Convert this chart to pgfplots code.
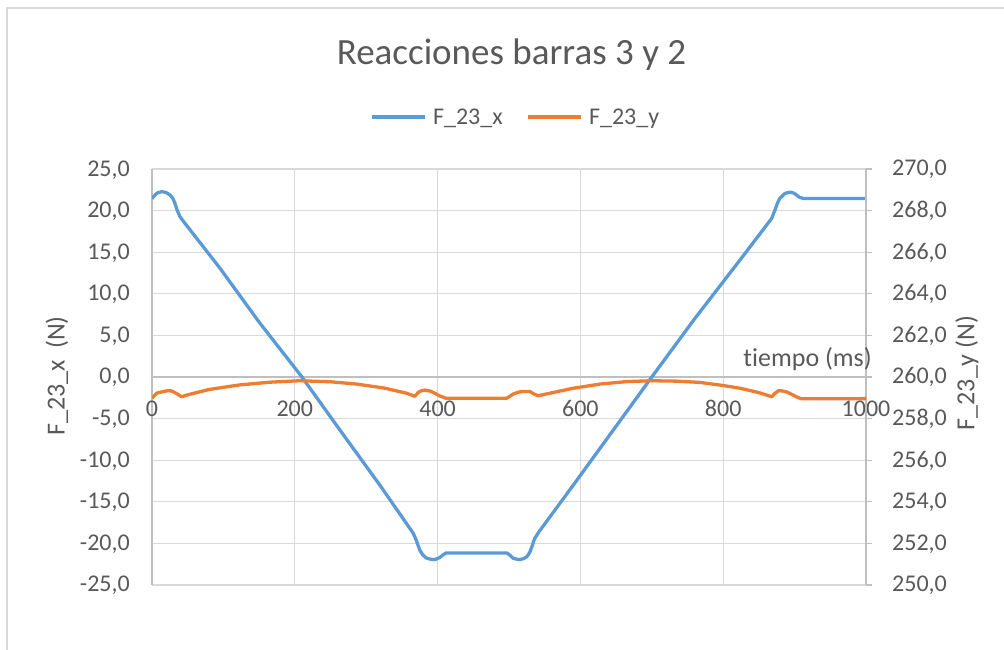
\documentclass[border=0pt]{standalone}
\usepackage{fontspec}
\setmainfont{Carlito}[Ligatures=CommonOff]
\usepackage{pgfplots}
\pgfplotsset{compat=1.18}
\definecolor{cblue}{HTML}{5B9BD5}
\definecolor{corange}{HTML}{ED7D31}
\definecolor{ctext}{HTML}{595959}
\definecolor{cgrid}{HTML}{D9D9D9}
\definecolor{caxis}{HTML}{BFBFBF}

\pgfplotstableread{
t v
0 21.45
4 21.85
8 22.15
13.6 22.27
19 22.2
25 21.9
29 21.5
32 20.9
35 20.1
39 19.3
45 18.6
95 13.1
150 6.6
210 0.0
263 -6.35
320 -13.1
366 -18.8
370 -19.6
375 -20.8
379 -21.35
384 -21.75
390 -21.9
396 -21.95
403 -21.7
408 -21.35
412 -21.15
497 -21.15
501 -21.4
506 -21.8
514 -21.95
520 -21.85
525 -21.6
529 -21.1
532 -20.4
536 -19.4
542 -18.6
590 -13.0
627.5 -8.57
700 0.0
760 7.0
823.5 14.06
868 19.07
872.5 20.07
876 20.9
879.5 21.5
886.5 22.07
893.6 22.22
899 22.1
903 21.85
907 21.6
912 21.46
1000 21.46
}\fx

\pgfplotstableread{
t v
0 258.98
6.5 259.22
15.8 259.30
22 259.34
27.5 259.33
34.5 259.20
41.5 259.05
48.5 259.13
80 259.40
123 259.62
165 259.75
207 259.82
250 259.77
286.6 259.66
325 259.47
356.6 259.22
368 259.07
373 259.26
378 259.35
382.4 259.37
390 259.32
396 259.22
403 259.09
411.8 258.98
496.8 258.98
501 259.07
506 259.18
512 259.26
517.7 259.30
529.4 259.30
535 259.18
541 259.10
560 259.24
590 259.46
627.5 259.66
665 259.78
700 259.82
735 259.80
767.5 259.74
800 259.59
823.5 259.46
850 259.25
868 259.05
872 259.20
877.4 259.34
883 259.33
889 259.28
898 259.13
904 259.02
910 258.95
1000 258.96
}\fy

\begin{document}
\begin{tikzpicture}
\begin{axis}[
  at={(0pt,0pt)}, anchor=south west,
  scale only axis, width=714pt, height=416pt,
  xmin=0, xmax=1000, ymin=-25, ymax=25,
  axis x line=middle, axis y line=left,
  axis line style={-, draw=caxis, line width=1.3pt},
  every inner x axis line/.append style={-},
  every outer y axis line/.append style={-},
  hide obscured x ticks=false, hide obscured y ticks=false,
  xtick={0,200,400,600,800,1000},
  xticklabels={0,200,400,600,800,1000},
  ytick={-25,-20,-15,-10,-5,0,5,10,15,20,25},
  yticklabels={{-25,0},{-20,0},{-15,0},{-10,0},{-5,0},{0,0},{5,0},{10,0},{15,0},{20,0},{25,0}},
  major tick length=0pt,
  grid=major, major grid style={draw=cgrid, line width=1.2pt},
  xticklabel style={anchor=base, inner sep=0pt, yshift=-40pt, font=\fontsize{24}{28}\selectfont, text=ctext},
  yticklabel style={anchor=base east, inner sep=0pt, xshift=-22pt, yshift=-7pt, font=\fontsize{24}{28}\selectfont, text=ctext},
  legend columns=2,
  legend style={at={(0.5084,1.125)}, anchor=center, draw=none, fill=none,
    font=\fontsize{24}{28}\selectfont, text=ctext,
    nodes={inner sep=0pt, anchor=west},
    /tikz/every odd column/.append style={column sep=6pt},
    /tikz/every even column/.append style={column sep=24pt}},
  legend image code/.code={\draw[#1] (0pt,0pt) -- (53pt,0pt);},
]
\addplot[cblue, line width=3.3pt, line join=round] table[x=t, y=v] {\fx};
\addlegendentry{F\_23\_x}
\addlegendimage{corange, line width=3.3pt}
\addlegendentry{F\_23\_y}
\end{axis}
\begin{axis}[
  at={(0pt,0pt)}, anchor=south west,
  scale only axis, width=714pt, height=416pt,
  xmin=0, xmax=1000, ymin=250, ymax=270,
  axis x line=none, axis y line*=right,
  axis line style={-, draw=caxis, line width=1.3pt},
  every outer y axis line/.append style={-},
  ytick={250,252,254,256,258,260,262,264,266,268,270},
  yticklabels={{250,0},{252,0},{254,0},{256,0},{258,0},{260,0},{262,0},{264,0},{266,0},{268,0},{270,0}},
  tick align=outside, major tick length=6pt,
  ytick style={draw=caxis, line width=1.3pt},
  yticklabel style={anchor=base west, inner sep=0pt, xshift=20pt, yshift=-7pt, font=\fontsize{24}{28}\selectfont, text=ctext},
]
\addplot[corange, line width=3.3pt, line join=round] table[x=t, y=v] {\fy};
\end{axis}
% titles and labels
\node[anchor=base, text=ctext, font=\fontsize{37}{44}\selectfont] at (359.5pt,520pt) {Reacciones barras 3 y 2};
\node[anchor=base east, text=ctext, font=\fontsize{26}{30}\selectfont, inner sep=0pt] at (720pt,218pt) {tiempo (ms)};
\node[rotate=90, text=ctext, font=\fontsize{26}{30}\selectfont, inner sep=0pt] at (-95pt,209pt) {F\_23\_x\ \ (N)};
\node[rotate=90, text=ctext, font=\fontsize{26}{30}\selectfont, inner sep=0pt] at (815pt,212pt) {F\_23\_y (N)};
% chart area border
\draw[cgrid, line width=1.5pt] (-145pt,-70pt) -- (-145pt,577pt) -- (860pt,577pt);
\pgfresetboundingbox
\path (-152pt,-65pt) rectangle (852pt,585pt);
\end{tikzpicture}
\end{document}
